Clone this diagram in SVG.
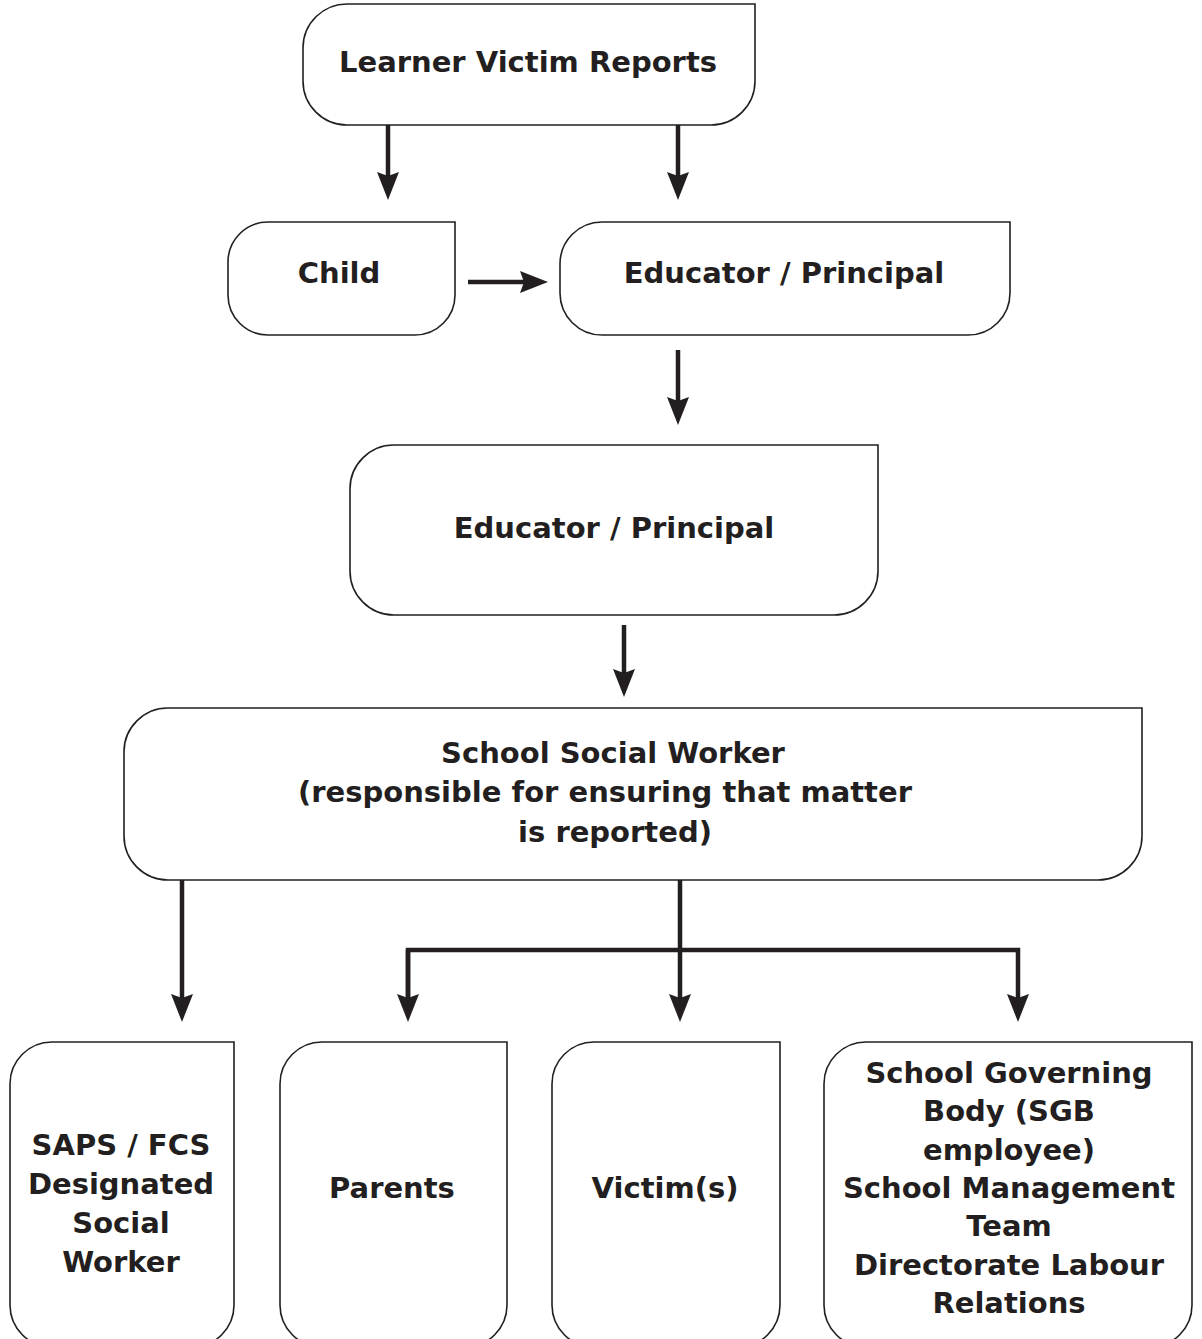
<svg xmlns="http://www.w3.org/2000/svg" width="1202" height="1339" viewBox="0 0 1202 1339">
  <defs>
    <style>
      .box { fill: #ffffff; stroke: #231f20; stroke-width: 1.6; }
      .lbl { font-family: "DejaVu Sans", "Liberation Sans", sans-serif; font-weight: 700; font-size: 29px; fill: #231f20; text-anchor: middle; }
      .conn { fill: none; stroke: #231f20; stroke-width: 4.5; stroke-linejoin: miter; }
    </style>
    <marker id="ah" markerUnits="userSpaceOnUse" markerWidth="30" markerHeight="24" refX="18" refY="11" orient="auto" viewBox="0 0 30 24">
      <path d="M0,0 L28,11 L0,22 L4,11 Z" fill="#231f20"/>
    </marker>
  </defs>
  <rect width="1202" height="1339" fill="#ffffff"/>

  <g id="connectors">
    <path class="conn" d="M388,125 V190" marker-end="url(#ah)"/>
    <path class="conn" d="M678,125 V190" marker-end="url(#ah)"/>
    <path class="conn" d="M468,282 H538" marker-end="url(#ah)"/>
    <path class="conn" d="M678,350 V415" marker-end="url(#ah)"/>
    <path class="conn" d="M624,625 V687" marker-end="url(#ah)"/>
    <path class="conn" d="M182,880 V1012" marker-end="url(#ah)"/>
    <path class="conn" d="M680,862 V1012" marker-end="url(#ah)"/>
    <path class="conn" d="M408,1012 V950 H1018 V1012" marker-end="url(#ah)"/>
    <path class="conn" d="M408,950 V1012" marker-end="url(#ah)"/>
  </g>

  <g id="node-learner">
    <path class="box" d="M348,4 H755 V81 A44,44 0 0 1 711,125 H347 A44,44 0 0 1 303,81 V48 A44,44 0 0 1 348,4 Z"/>
    <text class="lbl" x="528" y="72">Learner Victim Reports</text>
  </g>

  <g id="node-child">
    <path class="box" d="M268,222 H455 V295 A40,40 0 0 1 415,335 H268 A40,40 0 0 1 228,295 V262 A40,40 0 0 1 268,222 Z"/>
    <text class="lbl" x="339" y="283">Child</text>
  </g>

  <g id="node-educator1">
    <path class="box" d="M602,222 H1010 V293 A42,42 0 0 1 968,335 H602 A42,42 0 0 1 560,293 V264 A42,42 0 0 1 602,222 Z"/>
    <text class="lbl" x="784" y="283">Educator / Principal</text>
  </g>

  <g id="node-educator2">
    <path class="box" d="M395,445 H878 V571 A44,44 0 0 1 834,615 H394 A44,44 0 0 1 350,571 V490 A44,44 0 0 1 395,445 Z"/>
    <text class="lbl" x="614" y="538">Educator / Principal</text>
  </g>

  <g id="node-ssw">
    <path class="box" d="M169,708 H1142 V836 A44,44 0 0 1 1098,880 H168 A44,44 0 0 1 124,836 V753 A44,44 0 0 1 169,708 Z"/>
    <text class="lbl" x="613" y="763">School Social Worker</text>
    <text class="lbl" x="605" y="802">(responsible for ensuring that matter</text>
    <text class="lbl" x="615" y="842">is reported)</text>
  </g>

  <g id="node-saps">
    <path class="box" d="M52,1042 H234 V1305 A42,42 0 0 1 192,1347 H52 A42,42 0 0 1 10,1305 V1084 A42,42 0 0 1 52,1042 Z"/>
    <text class="lbl" x="121" y="1155">SAPS / FCS</text>
    <text class="lbl" x="121" y="1194">Designated</text>
    <text class="lbl" x="121" y="1233">Social</text>
    <text class="lbl" x="121" y="1272">Worker</text>
  </g>

  <g id="node-parents">
    <path class="box" d="M322,1042 H507 V1305 A42,42 0 0 1 465,1347 H322 A42,42 0 0 1 280,1305 V1084 A42,42 0 0 1 322,1042 Z"/>
    <text class="lbl" x="392" y="1198">Parents</text>
  </g>

  <g id="node-victims">
    <path class="box" d="M594,1042 H780 V1305 A42,42 0 0 1 738,1347 H594 A42,42 0 0 1 552,1305 V1084 A42,42 0 0 1 594,1042 Z"/>
    <text class="lbl" x="665" y="1198">Victim(s)</text>
  </g>

  <g id="node-sgb">
    <path class="box" d="M866,1042 H1192 V1305 A42,42 0 0 1 1150,1347 H866 A42,42 0 0 1 824,1305 V1084 A42,42 0 0 1 866,1042 Z"/>
    <text class="lbl" x="1009" y="1083">School Governing</text>
    <text class="lbl" x="1009" y="1121">Body (SGB</text>
    <text class="lbl" x="1009" y="1160">employee)</text>
    <text class="lbl" x="1009" y="1198">School Management</text>
    <text class="lbl" x="1009" y="1236">Team</text>
    <text class="lbl" x="1009" y="1275">Directorate Labour</text>
    <text class="lbl" x="1009" y="1313">Relations</text>
  </g>
</svg>
